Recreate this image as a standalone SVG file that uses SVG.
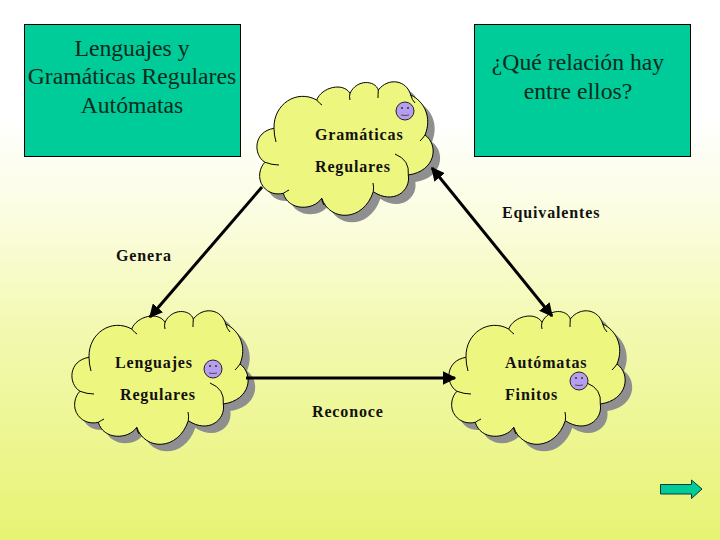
<svg xmlns="http://www.w3.org/2000/svg" xmlns:xlink="http://www.w3.org/1999/xlink" width="720" height="540" viewBox="0 0 720 540">
<style>
.box{fill:#00cc99;stroke:#000;stroke-width:1}
.title{font:23.700px "Liberation Serif",serif;fill:#0a2a1c;text-anchor:middle}
.lab{font:bold 16px "Liberation Serif",serif;letter-spacing:.85px;fill:#111}
.conn{stroke:#000;stroke-width:3;fill:none}
.cl{fill:#edf67e;stroke:#000;stroke-width:1}
.sh{fill:#8f8f8f}
.in{fill:none;stroke:#000;stroke-width:1}
.face{fill:#b59ef0;stroke:#222;stroke-width:1}
.eye{fill:#333}
.mouth{fill:none;stroke:#333;stroke-width:.8}
</style>
<defs>
<linearGradient id="bg" x1="0" y1="0" x2="0" y2="1">
<stop offset="0" stop-color="#fff"/><stop offset=".22" stop-color="#fff"/><stop offset=".4" stop-color="#fbfde0"/><stop offset=".6" stop-color="#f3f9b2"/><stop offset="1" stop-color="#e7f373"/>
</linearGradient>
<marker id="ah" viewBox="0 0 10 10" refX="9" refY="5" markerWidth="4.500" markerHeight="4.500" orient="auto"><path d="M0 0L10 5L0 10Z"/></marker>
<marker id="ahs" viewBox="0 0 10 10" refX="1" refY="5" markerWidth="4.500" markerHeight="4.500" orient="auto"><path d="M10 0L0 5L10 10Z"/></marker>
<path id="cloudp" d="M263.300 186.700C256.700 178.300 260 166.700 265 162.300C253 155 253 131.700 274 128.300C273.300 104 296.700 89 316.700 100C321.700 87 343.300 82 350 93.300C356.700 79 375 80 378.300 90C388.300 77 406.700 80 410.700 95C425 101.700 432 118.300 425 135C439 145 436 171 408.300 175C411 191 393.300 205 373.300 191.700C363.300 222 330 222 321.700 198.300C313.300 211 288.300 211 283.300 193.300C276.700 195 268.300 193.300 263.300 186.700Z"/>
<g id="cloud">
<use xlink:href="#cloudp" class="sh" transform="translate(7,7)"/>
<use xlink:href="#cloudp" class="cl"/>
<path class="in" d="M265 162.300Q272 165 279 165M274 128.300Q274 135 276 142M316.700 100Q320 104 322 105M350 93.300Q349 97 350 100M378.300 90Q378 95 378 98M410.700 95Q412 100 415 103M425 135Q423 138 420 141M408.300 175Q410 160 395 154M373.300 191.700Q374 187 373 183M321.700 198.300Q322 202 324 205M283.300 193.300Q287 191 289 190"/>
</g>
<g id="smile">
<circle class="face" cx="0" cy="0" r="9"/>
<circle class="eye" cx="-3" cy="-3" r="1"/><circle class="eye" cx="3" cy="-3" r="1"/>
<path class="mouth" d="M-4 4Q0 5 4 4"/>
</g>
</defs>
<rect width="720" height="540" fill="url(#bg)"/>
<g id="box-left"><rect class="box" x="24.500" y="24.500" width="216" height="132"/>
<text class="title" x="132" y="56">Lenguajes y</text>
<text class="title" x="132" y="84">Gramáticas Regulares</text>
<text class="title" x="132" y="113">Autómatas</text></g>
<g id="box-right"><rect class="box" x="474.500" y="24.500" width="216" height="132"/>
<text class="title" x="578" y="70">¿Qué relación hay</text>
<text class="title" x="578" y="99">entre ellos?</text></g>
<g id="cloud-gramaticas"><use xlink:href="#cloud"/><use xlink:href="#smile" x="405" y="111"/>
<text class="lab" x="315" y="140">Gramáticas</text><text class="lab" x="315" y="172">Regulares</text></g>
<g id="cloud-lenguajes"><use xlink:href="#cloud" transform="translate(-185,229)"/><use xlink:href="#smile" x="213" y="369"/>
<text class="lab" x="115" y="368">Lenguajes</text><text class="lab" x="120" y="400">Regulares</text></g>
<g id="cloud-automatas"><use xlink:href="#cloud" transform="translate(192,229)"/><use xlink:href="#smile" x="579" y="381"/>
<text class="lab" x="505" y="368">Autómatas</text><text class="lab" x="505" y="400">Finitos</text></g>
<g id="connectors">
<line class="conn" x1="262" y1="187" x2="150" y2="317" marker-end="url(#ah)"/>
<line class="conn" x1="432" y1="168" x2="552" y2="316" marker-start="url(#ahs)" marker-end="url(#ah)"/>
<line class="conn" x1="246" y1="378" x2="455" y2="378" marker-end="url(#ah)"/>
</g>
<text class="lab" x="502" y="218">Equivalentes</text>
<text class="lab" x="116" y="261">Genera</text>
<text class="lab" x="312" y="417">Reconoce</text>
<g id="next-arrow"><path d="M660.500 484.500H691.500V480L702 489L691.500 498.500V494H660.500Z" fill="#00cc99" stroke="#0a3a3a" stroke-width="1"/></g>
</svg>
